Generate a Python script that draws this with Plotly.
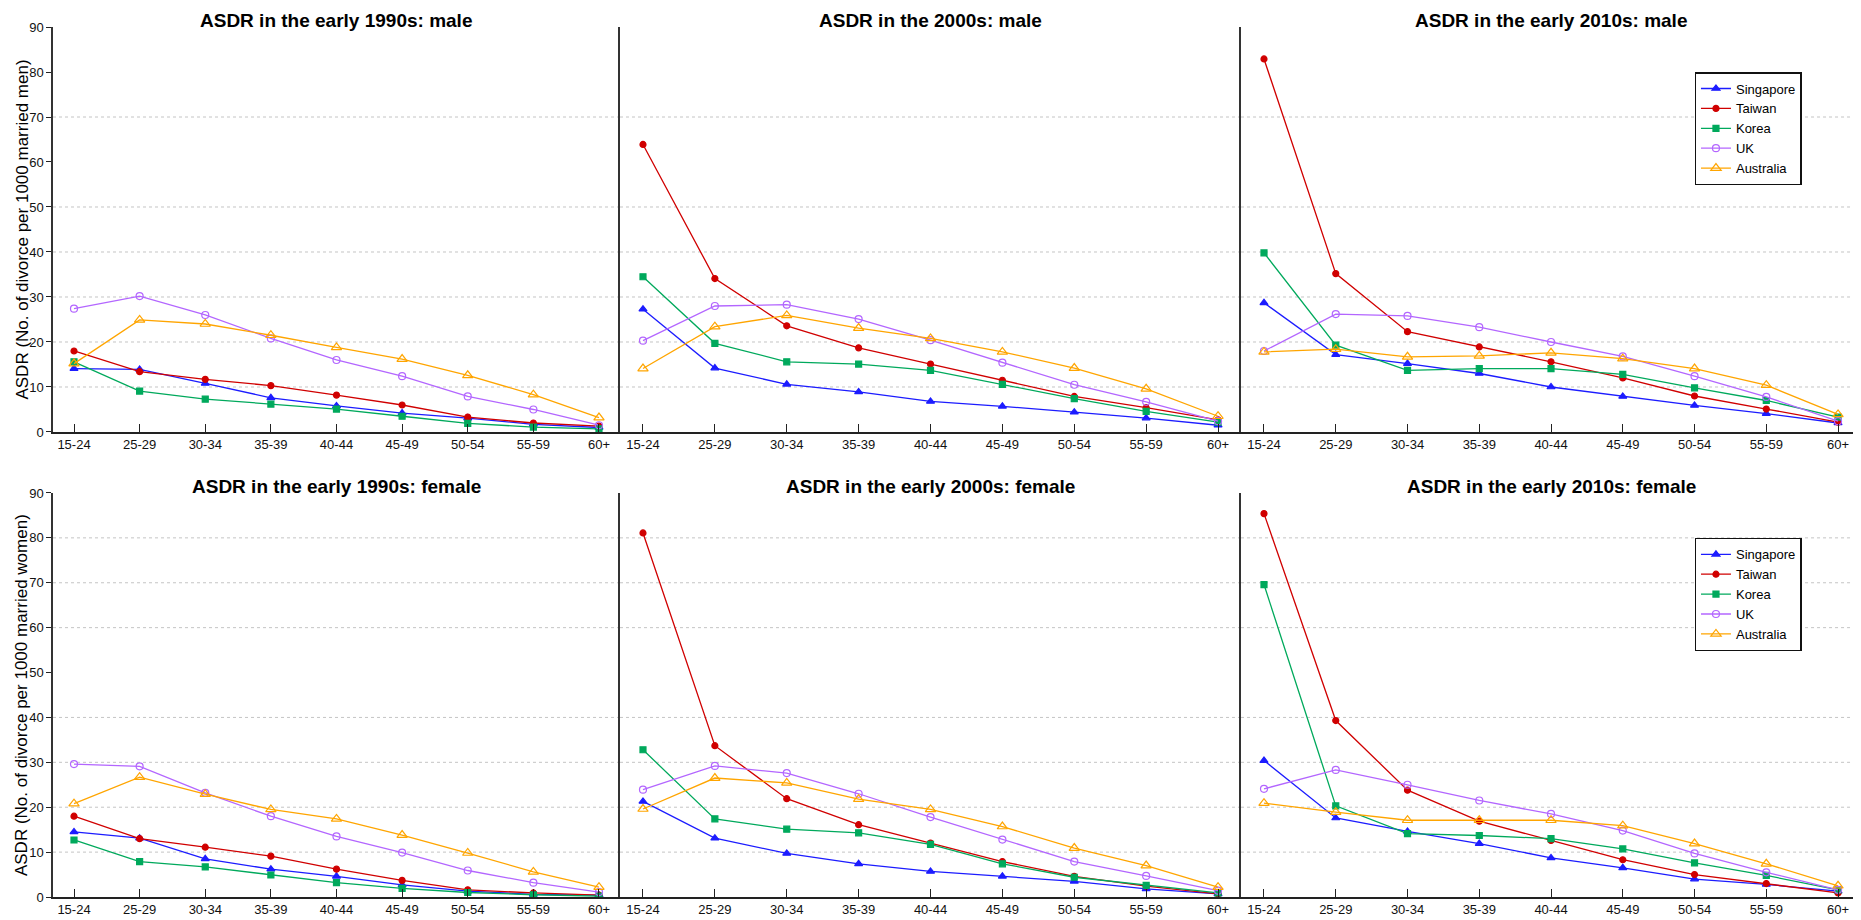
import plotly.graph_objects as go

AGE_GROUPS = ["15-24", "25-29", "30-34", "35-39", "40-44", "45-49", "50-54", "55-59", "60+"]
COUNTRIES = ["Singapore", "Taiwan", "Korea", "UK", "Australia"]

MALE_1990S = {
    "Singapore": [14.1, 13.9, 10.8, 7.6, 5.8, 4.2, 3.1, 1.7, 1.0],
    "Taiwan": [18.0, 13.4, 11.7, 10.3, 8.2, 6.0, 3.3, 2.0, 1.3],
    "Korea": [15.6, 9.1, 7.3, 6.2, 5.1, 3.5, 1.9, 1.1, 0.7],
    "UK": [27.4, 30.2, 26.0, 20.8, 16.0, 12.4, 7.9, 5.0, 1.5],
    "Australia": [15.2, 24.9, 24.0, 21.5, 18.8, 16.2, 12.6, 8.3, 3.2],
}
MALE_2000S = {
    "Singapore": [27.3, 14.2, 10.6, 8.9, 6.8, 5.7, 4.4, 3.1, 1.5],
    "Taiwan": [63.9, 34.1, 23.6, 18.7, 15.1, 11.5, 7.9, 5.4, 2.7],
    "Korea": [34.5, 19.7, 15.6, 15.1, 13.7, 10.6, 7.4, 4.6, 2.2],
    "UK": [20.3, 28.0, 28.3, 25.1, 20.4, 15.4, 10.5, 6.7, 2.4],
    "Australia": [14.1, 23.4, 25.9, 23.1, 20.8, 17.8, 14.2, 9.6, 3.5],
}
MALE_2010S = {
    "Singapore": [28.7, 17.2, 15.2, 13.0, 10.0, 7.9, 5.9, 4.1, 2.0],
    "Taiwan": [82.9, 35.2, 22.3, 18.9, 15.6, 12.0, 8.0, 5.1, 2.2],
    "Korea": [39.8, 19.3, 13.7, 14.1, 14.1, 12.8, 9.8, 7.0, 3.3],
    "UK": [18.0, 26.2, 25.8, 23.3, 20.0, 16.8, 12.4, 7.8, 2.4],
    "Australia": [17.8, 18.4, 16.7, 16.9, 17.6, 16.3, 14.1, 10.4, 3.9],
}
FEMALE_1990S = {
    "Singapore": [14.5, 13.1, 8.5, 6.2, 4.6, 2.7, 1.3, 0.6, 0.4],
    "Taiwan": [18.0, 13.0, 11.1, 9.1, 6.2, 3.7, 1.6, 0.9, 0.4],
    "Korea": [12.7, 7.9, 6.7, 4.9, 3.2, 1.9, 1.0, 0.5, 0.2],
    "UK": [29.6, 29.1, 23.2, 18.0, 13.5, 9.9, 5.9, 3.2, 1.1],
    "Australia": [20.8, 26.7, 22.9, 19.5, 17.4, 13.8, 9.8, 5.6, 2.2],
}
FEMALE_2000S = {
    "Singapore": [21.3, 13.1, 9.7, 7.4, 5.7, 4.6, 3.5, 1.8, 0.7],
    "Taiwan": [81.1, 33.7, 21.9, 16.1, 12.0, 7.9, 4.6, 2.4, 0.7],
    "Korea": [32.8, 17.4, 15.1, 14.3, 11.7, 7.4, 4.4, 2.6, 0.9],
    "UK": [23.9, 29.2, 27.6, 23.0, 17.8, 12.8, 7.9, 4.7, 1.4],
    "Australia": [19.6, 26.5, 25.4, 21.8, 19.5, 15.7, 10.9, 7.0, 2.2],
}
FEMALE_2010S = {
    "Singapore": [30.4, 17.6, 14.6, 11.9, 8.7, 6.5, 4.0, 2.8, 1.3],
    "Taiwan": [85.4, 39.3, 23.8, 16.9, 12.6, 8.3, 5.0, 3.0, 0.9],
    "Korea": [69.6, 20.3, 14.1, 13.7, 13.0, 10.7, 7.6, 4.8, 1.6],
    "UK": [24.1, 28.3, 25.0, 21.5, 18.5, 14.8, 9.7, 5.5, 1.6],
    "Australia": [20.9, 18.9, 17.1, 17.1, 17.1, 15.9, 11.9, 7.4, 2.5],
}

PANEL_TITLES = [
    "ASDR in the early 1990s: male",
    "ASDR in the 2000s: male",
    "ASDR in the early 2010s: male",
    "ASDR in the early 1990s: female",
    "ASDR in the early 2000s: female",
    "ASDR in the early 2010s: female",
]
Y_TITLES = [
    "ASDR (No. of divorce per 1000 married men)",
    "ASDR (No. of divorce per 1000 married women)",
]
Y_TICKS = [0, 10, 20, 30, 40, 50, 60, 70, 80, 90]
GRID_TOP = [10, 20, 30, 40, 50, 70]
GRID_BOTTOM = [10, 20, 30, 40, 60, 70, 80]

PANELS = [MALE_1990S, MALE_2000S, MALE_2010S, FEMALE_1990S, FEMALE_2000S, FEMALE_2010S]

STYLES = {
    "Singapore": dict(color="#1c1cff", symbol="triangle-up", size=7),
    "Taiwan": dict(color="#d00000", symbol="circle", size=6),
    "Korea": dict(color="#00a95c", symbol="square", size=6),
    "UK": dict(color="#b366ff", symbol="circle-open", size=7),
    "Australia": dict(color="#ffa500", symbol="triangle-up-open", size=9),
}

FONT = "Liberation Sans, Arial, sans-serif"
X_DOMAINS = [[0.0, 0.3136], [0.3136, 0.6571], [0.6571, 1.0]]
Y_DOMAINS = [[0.5345, 1.0], [0.0, 0.4644]]

fig = go.Figure()
layout_axes = {}

for p, data in enumerate(PANELS):
    sfx = "" if p == 0 else str(p + 1)
    row = p // 3
    col = p % 3
    for c in COUNTRIES:
        st = STYLES[c]
        fig.add_trace(go.Scatter(
            x=AGE_GROUPS, y=data[c], name=c, mode="lines+markers",
            xaxis=f"x{sfx}", yaxis=f"y{sfx}",
            line=dict(color=st["color"], width=1.3),
            marker=dict(color=st["color"], symbol=st["symbol"], size=st["size"],
                        line=dict(color=st["color"], width=1.2)),
            showlegend=(col == 2),
            legend="legend" if row == 0 else "legend2",
        ))
    layout_axes[f"xaxis{sfx}"] = dict(
        domain=X_DOMAINS[col], anchor=f"y{sfx}", type="category",
        categoryorder="array", categoryarray=AGE_GROUPS,
        range=[-0.32, 8.32], showgrid=False, zeroline=False,
        showline=True, linecolor="#222", linewidth=1.5,
        ticks="inside", ticklen=8, tickcolor="#222", tickwidth=1.3,
        tickfont=dict(family=FONT, size=13, color="#111"),
    )
    yax = dict(
        domain=Y_DOMAINS[row], anchor=f"x{sfx}", range=[0, 90],
        showgrid=False, zeroline=False, showline=True,
        linecolor="#333", linewidth=1.5,
    )
    if col == 0:
        yax.update(tickvals=Y_TICKS, ticks="outside", ticklen=5, tickcolor="#222",
                   tickwidth=1.3, tickfont=dict(family=FONT, size=13, color="#111"))
    else:
        yax.update(showticklabels=False, ticks="")
    layout_axes[f"yaxis{sfx}"] = yax

    grid = GRID_TOP if row == 0 else GRID_BOTTOM
    for g in grid:
        fig.add_shape(type="line", xref=f"x{sfx} domain", yref=f"y{sfx}",
                      x0=0, x1=1, y0=g, y1=g, layer="below",
                      line=dict(color="#c4c4c4", width=1, dash="dot"))

    fig.add_annotation(
        text=f"<b>{PANEL_TITLES[p]}</b>", xref=f"x{sfx} domain", yref=f"y{sfx} domain",
        x=0.5, y=1.0, xanchor="center", yanchor="bottom", yshift=-6,
        showarrow=False, font=dict(family=FONT, size=19, color="#000"),
    )

fig.update_layout(**layout_axes)

for r in range(2):
    d = Y_DOMAINS[r]
    fig.add_annotation(
        text=Y_TITLES[r], xref="paper", yref="paper",
        x=-0.0171, y=(d[0] + d[1]) / 2, xanchor="center", yanchor="middle",
        textangle=-90, showarrow=False,
        font=dict(family=FONT, size=17, color="#000"),
    )

legend_style = dict(
    xanchor="left", yanchor="top", bgcolor="white",
    bordercolor="#111", borderwidth=1.3,
    font=dict(family=FONT, size=13, color="#000"),
    tracegroupgap=0, itemwidth=30,
)
# page body keeps an 8px default margin, so the figure is 8px smaller than the window
fig.update_layout(
    width=1853, height=912,
    margin=dict(l=45, r=0, t=19, b=23),
    paper_bgcolor="white", plot_bgcolor="white",
    font=dict(family=FONT, size=13, color="#000"),
    legend=dict(x=0.908, y=0.948, **legend_style),
    legend2=dict(x=0.908, y=0.4126, **legend_style),
)

fig.write_html("out.html")
